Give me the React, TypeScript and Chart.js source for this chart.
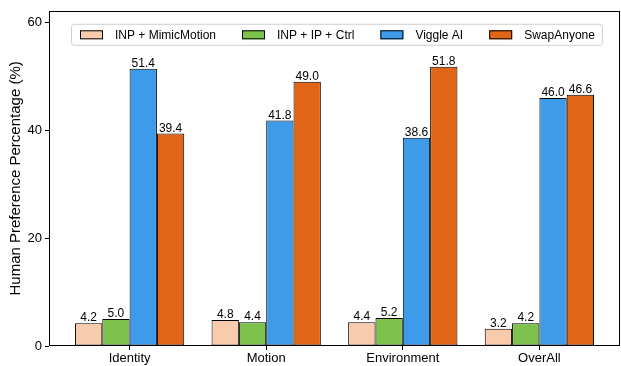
import React, { useEffect, useRef } from "react";
import { Chart, registerables } from "chart.js";

Chart.register(...registerables);

const categories = ["Identity", "Motion", "Environment", "OverAll"];
const seriesNames = ["INP + MimicMotion", "INP + IP + Ctrl", "Viggle AI", "SwapAnyone"];
const mimicMotion = [4.2, 4.8, 4.4, 3.2];
const ipCtrl = [5.0, 4.4, 5.2, 4.2];
const viggle = [51.4, 41.8, 38.6, 46.0];
const swapAnyone = [39.4, 49.0, 51.8, 46.6];
const yTicks = [0, 20, 40, 60];
const colors = ["#F8CBAD", "#7DC24D", "#3D9BE9", "#E06516"];

const FONT = "'Liberation Sans', Arial, sans-serif";

export default function App() {
  const ref = useRef<HTMLCanvasElement>(null);
  useEffect(() => {
    const canvas = ref.current!;
    const all = [mimicMotion, ipCtrl, viggle, swapAnyone];
    const frame = {
      id: "frame",
      afterDatasetsDraw(chart: any) {
        const ctx = chart.ctx;
        const a = chart.chartArea;
        // value labels
        ctx.save();
        ctx.font = `12px ${FONT}`;
        ctx.fillStyle = "#000";
        ctx.textAlign = "center";
        ctx.textBaseline = "alphabetic";
        chart.data.datasets.forEach((ds: any, i: number) => {
          const meta = chart.getDatasetMeta(i);
          meta.data.forEach((bar: any, j: number) => {
            ctx.fillText(ds.data[j].y.toFixed(1), bar.x, bar.y - 2);
          });
        });
        ctx.restore();
        // frame
        ctx.save();
        ctx.strokeStyle = "#000";
        ctx.lineWidth = 1;
        ctx.strokeRect(Math.round(a.left) + 0.5, Math.round(a.top) + 0.5, Math.round(a.right - a.left) - 1, Math.round(a.bottom - a.top) - 1);
        ctx.restore();
        // legend
        ctx.save();
        ctx.font = `12px ${FONT}`;
        const patchW = 23, patchH = 9, gapText = 12, gapEntry = 26, padL = 9, padR = 7;
        const widths = seriesNames.map((n) => ctx.measureText(n).width);
        let total = padL + padR;
        widths.forEach((w, i) => {
          total += patchW + gapText + w + (i < widths.length - 1 ? gapEntry : 0);
        });
        const cx = (a.left + a.right) / 2 + 1.5;
        const bx = Math.round(cx - total / 2);
        const by = a.top + 13;
        const bh = 21;
        ctx.beginPath();
        ctx.roundRect(bx + 0.5, by + 0.5, total, bh, 3);
        ctx.fillStyle = "rgba(255,255,255,0.85)";
        ctx.fill();
        ctx.strokeStyle = "#d0d0d0";
        ctx.lineWidth = 1;
        ctx.stroke();
        let x = bx + padL;
        const cy = by + bh / 2 + 0.5;
        seriesNames.forEach((n, i) => {
          ctx.fillStyle = colors[i];
          ctx.fillRect(x, cy - patchH / 2, patchW, patchH);
          ctx.strokeStyle = "#000";
          ctx.strokeRect(x + 0.5, cy - patchH / 2 + 0.5, patchW - 1, patchH - 1);
          ctx.fillStyle = "#000";
          ctx.textAlign = "left";
          ctx.textBaseline = "middle";
          ctx.fillText(n, x + patchW + gapText, cy + 0.5);
          x += patchW + gapText + widths[i] + gapEntry;
        });
        ctx.restore();
      },
    };
    const chart = new Chart(canvas, {
      type: "bar",
      data: {
        datasets: all.map((vals, i) => ({
          label: seriesNames[i],
          data: vals.map((v, j) => ({ x: j, y: v })),
          backgroundColor: colors[i],
          borderColor: "#000",
          borderWidth: 1,
          borderSkipped: false,
          categoryPercentage: 0.8,
          barPercentage: 1.0,
        })),
      },
      options: {
        responsive: false,
        animation: false,
        layout: { padding: { left: 0, right: 1, top: 4, bottom: 0 } },
        plugins: { legend: { display: false }, tooltip: { enabled: false } },
        scales: {
          x: {
            type: "linear",
            offset: false,
            min: -0.59,
            max: 3.59,
            afterBuildTicks: (s: any) => {
              s.ticks = categories.map((_, i) => ({ value: i }));
            },
            afterFit: (s: any) => {
              s.height = 20;
            },
            ticks: {
              color: "#000",
              font: { size: 13, family: FONT },
              padding: 1,
              maxRotation: 0,
              autoSkip: false,
              callback: (v: any) => categories[Math.round(v as number)] ?? "",
            },
            grid: { display: true, offset: false, drawOnChartArea: false, drawTicks: true, tickLength: 4, color: "#000" },
            border: { display: false },
          },
          y: {
            min: 0,
            max: 62.16,
            afterBuildTicks: (s: any) => {
              s.ticks = yTicks.map((v) => ({ value: v }));
            },
            afterFit: (s: any) => {
              s.width = 49;
            },
            ticks: {
              color: "#000",
              font: { size: 13, family: FONT },
              padding: 3,
            },
            grid: { display: true, drawOnChartArea: false, drawTicks: true, tickLength: 4, color: "#000" },
            border: { display: false },
            title: {
              display: true,
              text: "Human Preference Percentage (%)",
              color: "#000",
              font: { size: 15, family: FONT },
              padding: { top: 7, bottom: 0 },
            },
          },
        },
      },
      plugins: [frame],
    });
    return () => chart.destroy();
  }, []);
  return (
    <div style={{ position: "absolute", left: 0, top: 0, width: 621, height: 366, background: "#fff" }}>
      <canvas ref={ref} width={621} height={366} />
    </div>
  );
}
